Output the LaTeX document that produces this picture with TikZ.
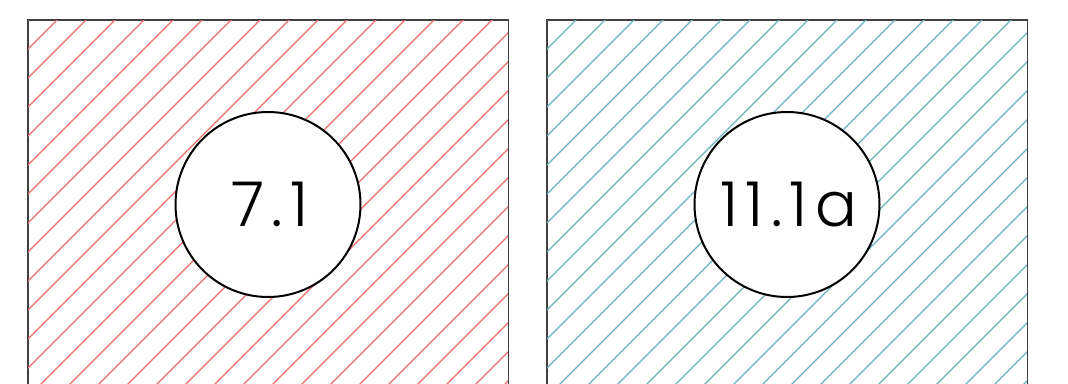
\documentclass[tikz,border=0pt]{standalone}
\usepackage{fontspec}
\setmainfont{Poppins}[UprightFont=* Light, LetterSpace=12]
\definecolor{hatchred}{RGB}{238,108,108}
\definecolor{hatchteal}{RGB}{108,176,190}

\begin{document}
\begin{tikzpicture}[x=1pt, y=-1pt,
  panel/.style={draw=black!75, line width=1pt, minimum width=480pt, minimum height=369pt, inner sep=0pt},
  tag/.style={circle, draw, fill=white, line width=2pt, minimum size=185pt, inner sep=0pt,
    font=\fontsize{62}{62}\selectfont}]
  \useasboundingbox (0,0) rectangle (1068,383);
  \node[panel] (leftpanel) at (268,204.5) {};
  \node[panel] (rightpanel) at (787,204.5) {};
  % hatching
  \begin{scope}
    \clip (leftpanel.north west) rectangle (leftpanel.south east);
    \foreach \k in {0,...,32} {
      \draw[hatchred, line width=1.3pt] ({48+29*\k},0) -- ({48+29*\k-420},420);
    }
  \end{scope}
  \begin{scope}
    \clip (rightpanel.north west) rectangle (rightpanel.south east);
    \foreach \k in {0,...,32} {
      \draw[hatchteal, line width=1.3pt] ({567+29*\k},0) -- ({567+29*\k-420},420);
    }
  \end{scope}
  \draw[black!75, line width=1pt] (leftpanel.north west) rectangle (leftpanel.south east);
  \draw[black!75, line width=1pt] (rightpanel.north west) rectangle (rightpanel.south east);
  \node[tag] (lefttag) at (leftpanel.center) {\hspace{3.5pt}7.1};
  \node[tag] (righttag) at (rightpanel.center) {\hspace{3.5pt}11.1a};
\end{tikzpicture}
\end{document}
